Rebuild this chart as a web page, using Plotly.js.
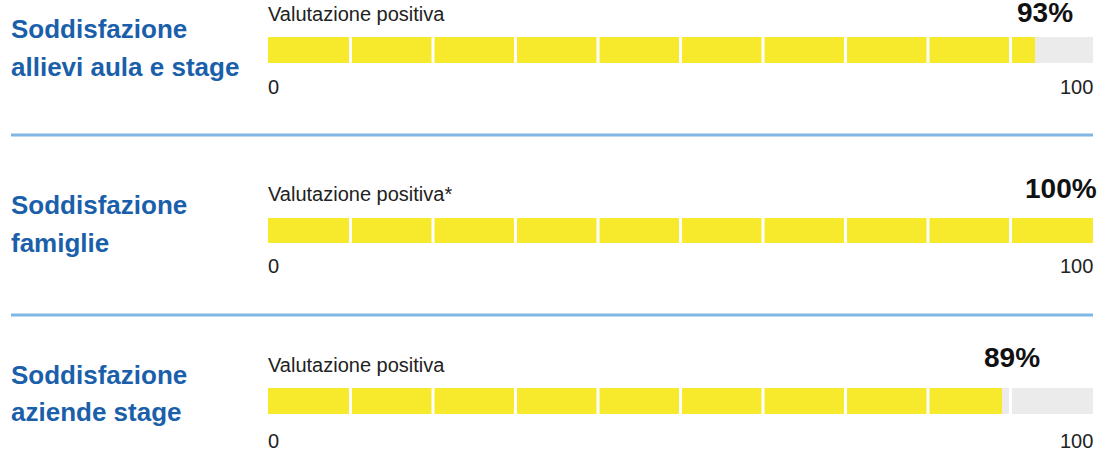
<!DOCTYPE html>
<html>
<head>
<meta charset="utf-8">
<script src="https://cdn.plot.ly/plotly-3.0.1.min.js"></script>
<style>html,body{margin:0;padding:0;background:#fff;}#chart{width:1109px;height:452px;}</style>
</head>
<body>
<div id="chart"></div>
<script>
// ---- data ----
const rowTitleLine1 = ["Soddisfazione", "Soddisfazione", "Soddisfazione"];
const rowTitleLine2 = ["allievi aula e stage", "famiglie", "aziende stage"];
const captions = ["Valutazione positiva", "Valutazione positiva*", "Valutazione positiva"];
const values = [93, 100, 89];
const scaleMin = 0;
const scaleMax = 100;
const tickLabels = ["0", "100"];
const segmentTicks = [10, 20, 30, 40, 50, 60, 70, 80, 90];

// ---- layout helpers (pixel geometry) ----
const W = 1109, H = 452;
const px = y => 1 - y / H;
const barTop = [37, 218, 388];
const barBot = [63, 243, 414];
const captionY = [14, 194.5, 364.5];
const pctY = [12, 188.5, 357.5];
const zeroY = [87, 266, 441];
const title1Y = [29, 204.5, 375];
const title2Y = [66.5, 242.5, 412];
const sepY = [135, 315];

const YELLOW = "#f7e92c", GRAY = "#ebebeb", BLUE = "#1b5fab", SEP = "#80b6e4";
const FONT = "Liberation Sans, Arial, Helvetica, sans-serif";

const traces = [];
const layout = {
  width: W, height: H,
  margin: {l: 0, r: 0, t: 0, b: 0},
  paper_bgcolor: "#fff", plot_bgcolor: "rgba(0,0,0,0)",
  showlegend: false,
  barmode: "overlay", bargap: 0,
  xaxis: {domain: [268 / W, 1093 / W], range: [scaleMin, scaleMax], visible: false, fixedrange: true, anchor: "y"},
  shapes: [], annotations: []
};

values.forEach((v, i) => {
  const yname = i === 0 ? "y" : "y" + (i + 1);
  const yax = i === 0 ? "yaxis" : "yaxis" + (i + 1);
  layout[yax] = {domain: [px(barBot[i]), px(barTop[i])], range: [-0.5, 0.5], visible: false, fixedrange: true, anchor: "x"};
  traces.push({type: "bar", orientation: "h", x: [scaleMax], y: [0], width: 1, xaxis: "x", yaxis: yname,
    marker: {color: GRAY}, hoverinfo: "skip"});
  traces.push({type: "bar", orientation: "h", x: [v], y: [0], width: 1, xaxis: "x", yaxis: yname,
    marker: {color: YELLOW}, hoverinfo: "skip"});
  segmentTicks.forEach(t => {
    layout.shapes.push({type: "line", xref: "x", yref: yname + " domain", x0: t, x1: t, y0: 0, y1: 1,
      line: {color: "#ffffff", width: 3}, layer: "above"});
  });
  // caption
  layout.annotations.push({xref: "paper", yref: "paper", x: 268 / W, y: px(captionY[i]), xanchor: "left", yanchor: "middle",
    text: captions[i], showarrow: false, xshift: -2, font: {family: FONT, size: 20, color: "#222"}});
  // percentage
  const right = v >= 97;
  layout.annotations.push({xref: "x", yref: "paper", x: v, y: px(pctY[i]), xanchor: right ? "right" : "center", yanchor: "middle",
    xshift: right ? 6 : 10, text: "<b>" + v + "%</b>", showarrow: false, font: {family: FONT, size: 28, color: "#111"}});
  // scale labels
  layout.annotations.push({xref: "x", yref: "paper", x: scaleMin, y: px(zeroY[i]), xanchor: "left", yanchor: "middle", xshift: -2,
    text: tickLabels[0], showarrow: false, font: {family: FONT, size: 20, color: "#222"}});
  layout.annotations.push({xref: "x", yref: "paper", x: scaleMax, y: px(zeroY[i]), xanchor: "right", yanchor: "middle", xshift: 2,
    text: tickLabels[1], showarrow: false, font: {family: FONT, size: 20, color: "#222"}});
  // row titles
  layout.annotations.push({xref: "paper", yref: "paper", x: 11 / W, y: px(title1Y[i]), xanchor: "left", yanchor: "middle", xshift: -2,
    text: "<b>" + rowTitleLine1[i] + "</b>", showarrow: false, font: {family: FONT, size: 26, color: BLUE}});
  layout.annotations.push({xref: "paper", yref: "paper", x: 11 / W, y: px(title2Y[i]), xanchor: "left", yanchor: "middle", xshift: -2,
    text: "<b>" + rowTitleLine2[i] + "</b>", showarrow: false, font: {family: FONT, size: 26, color: BLUE}});
});

sepY.forEach(y => {
  layout.shapes.push({type: "line", xref: "paper", yref: "paper", x0: 11 / W, x1: 1093 / W, y0: px(y), y1: px(y),
    line: {color: SEP, width: 3}});
});

Plotly.newPlot("chart", traces, layout, {displayModeBar: false, staticPlot: true});
</script>
</body>
</html>
